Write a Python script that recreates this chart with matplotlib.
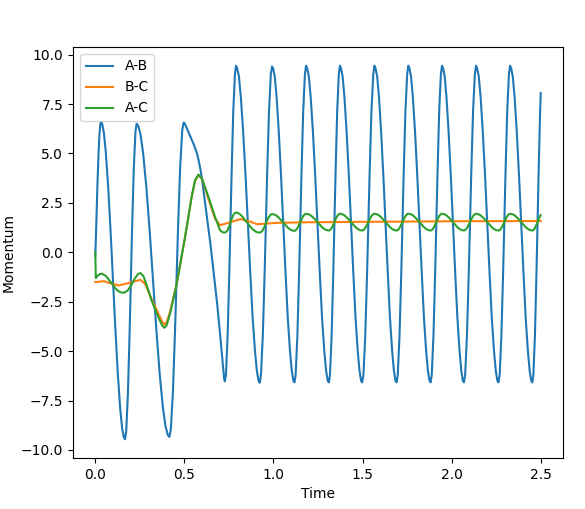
import matplotlib
matplotlib.use("Agg")
import matplotlib.pyplot as plt

# ---- values ----
# A-B, irregular start (t < 0.727)
t_ab_early = [0.0, 0.006, 0.012, 0.018, 0.023, 0.028, 0.032,
              0.0388, 0.0482, 0.059, 0.0725, 0.086, 0.0995, 0.113, 0.1265, 0.14, 0.1508, 0.1602,
              0.167, 0.1735, 0.1833, 0.193, 0.1995, 0.206, 0.2158, 0.2255,
              0.232, 0.2412, 0.2541, 0.2688, 0.2872, 0.3056, 0.324, 0.3424, 0.3608, 0.3792, 0.3939, 0.4068,
              0.416, 0.424, 0.436, 0.448, 0.456, 0.464, 0.476, 0.488,
              0.496, 0.503, 0.515, 0.534, 0.555, 0.571, 0.58, 0.59, 0.60, 0.609,
              0.628, 0.646, 0.665, 0.684, 0.700, 0.712, 0.718, 0.723]
ab_early = [-0.2, 1.5, 3.4, 4.9, 5.9, 6.45, 6.6,
            6.50, 6.04, 5.07, 3.29, 1.05, -1.43, -3.91, -6.15, -7.93, -8.90, -9.36,
            -9.46, -9.07, -7.12, -3.95, -1.48, 0.99, 4.16, 6.11,
            6.50, 6.40, 5.95, 4.99, 3.24, 1.03, -1.42, -3.87, -6.08, -7.83, -8.79, -9.24,
            -9.34, -8.95, -7.01, -3.85, -1.39, 1.07, 4.23, 6.17,
            6.56, 6.5, 6.25, 5.85, 5.4, 5.0, 4.65, 4.2, 3.65, 3.0,
            1.7, 0.44, -1.1, -2.6, -4.1, -5.3, -5.95, -6.38]

# regular oscillation part (time samples shared by A-B and A-C)
t_osc = [0.727, 0.7333, 0.7428, 0.7522, 0.7585, 0.7648, 0.7743, 0.7837,
         0.790, 0.7967, 0.806, 0.8166, 0.8299, 0.8432, 0.8565, 0.8698, 0.8831, 0.8964, 0.907, 0.9164,
         0.923, 0.9299, 0.9403, 0.9506, 0.9575, 0.9644, 0.9748, 0.9851,
         0.992, 0.9983, 1.0071, 1.0172, 1.0298, 1.0424, 1.055, 1.0676, 1.0802, 1.0928, 1.1029, 1.1117,
         1.118, 1.1245, 1.1343, 1.144, 1.1505, 1.157, 1.1668, 1.1765,
         1.183, 1.1894, 1.1984, 1.2086, 1.2214, 1.2342, 1.247, 1.2598, 1.2726, 1.2854, 1.2956, 1.3046,
         1.311, 1.3172, 1.3265, 1.3358, 1.342, 1.3482, 1.3575, 1.3668,
         1.373, 1.3793, 1.388, 1.398, 1.4105, 1.423, 1.4355, 1.448, 1.4605, 1.473, 1.483, 1.4918,
         1.498, 1.5049, 1.5153, 1.5256, 1.5325, 1.5394, 1.5498, 1.5601,
         1.567, 1.5732, 1.5819, 1.5918, 1.6042, 1.6166, 1.629, 1.6414, 1.6538, 1.6662, 1.6761, 1.6848,
         1.691, 1.6976, 1.7075, 1.7174, 1.724, 1.7306, 1.7405, 1.7504,
         1.757, 1.7633, 1.772, 1.782, 1.7945, 1.807, 1.8195, 1.832, 1.8445, 1.857, 1.867, 1.8758,
         1.882, 1.8884, 1.898, 1.9076, 1.914, 1.9204, 1.93, 1.9396,
         1.946, 1.9522, 1.9608, 1.9706, 1.9829, 1.9952, 2.0075, 2.0198, 2.0321, 2.0444, 2.0542, 2.0629,
         2.069, 2.0758, 2.086, 2.0962, 2.103, 2.1098, 2.12, 2.1302,
         2.137, 2.1433, 2.1521, 2.1622, 2.1748, 2.1874, 2.2, 2.2126, 2.2252, 2.2378, 2.2479, 2.2567,
         2.263, 2.2695, 2.2793, 2.289, 2.2955, 2.302, 2.3118, 2.3215,
         2.328, 2.3343, 2.343, 2.353, 2.3655, 2.378, 2.3905, 2.403, 2.4155, 2.428, 2.438, 2.4468,
         2.453, 2.4588, 2.4675, 2.4762, 2.482, 2.4878, 2.4965, 2.5]
ab_osc = [-6.53, -6.2, -4.2, -1.0, 1.4, 3.9, 7.1, 9.0,
          9.44, 9.3, 8.9, 7.9, 6.1, 3.9, 1.4, -1.0, -3.3, -5.0, -6.0, -6.5,
          -6.60, -6.2, -4.2, -1.0, 1.4, 3.9, 7.1, 9.0,
          9.40, 9.3, 8.9, 7.9, 6.1, 3.9, 1.4, -1.0, -3.3, -5.0, -6.0, -6.5,
          -6.58, -6.2, -4.2, -1.0, 1.4, 3.9, 7.1, 9.0,
          9.44, 9.3, 8.9, 7.9, 6.1, 3.9, 1.4, -1.0, -3.3, -5.0, -6.0, -6.5,
          -6.58, -6.2, -4.2, -1.0, 1.4, 3.9, 7.1, 9.0,
          9.44, 9.3, 8.9, 7.9, 6.1, 3.9, 1.4, -1.0, -3.3, -5.0, -6.0, -6.5,
          -6.58, -6.2, -4.2, -1.0, 1.4, 3.9, 7.1, 9.0,
          9.44, 9.3, 8.9, 7.9, 6.1, 3.9, 1.4, -1.0, -3.3, -5.0, -6.0, -6.5,
          -6.58, -6.2, -4.2, -1.0, 1.4, 3.9, 7.1, 9.0,
          9.44, 9.3, 8.9, 7.9, 6.1, 3.9, 1.4, -1.0, -3.3, -5.0, -6.0, -6.5,
          -6.58, -6.2, -4.2, -1.0, 1.4, 3.9, 7.1, 9.0,
          9.44, 9.3, 8.9, 7.9, 6.1, 3.9, 1.4, -1.0, -3.3, -5.0, -6.0, -6.5,
          -6.58, -6.2, -4.2, -1.0, 1.4, 3.9, 7.1, 9.0,
          9.44, 9.3, 8.9, 7.9, 6.1, 3.9, 1.4, -1.0, -3.3, -5.0, -6.0, -6.5,
          -6.58, -6.2, -4.2, -1.0, 1.4, 3.9, 7.1, 9.0,
          9.44, 9.3, 8.9, 7.9, 6.1, 3.9, 1.4, -1.0, -3.3, -5.0, -6.0, -6.5,
          -6.58, -6.2, -4.2, -1.0, 1.4, 3.9, 7.1, 8.05]

# B-C
t_bc = [0.0, 0.047, 0.09, 0.131, 0.19, 0.253, 0.28, 0.316, 0.354, 0.375,
        0.388, 0.40, 0.42, 0.457, 0.504, 0.541, 0.56, 0.579, 0.60, 0.635,
        0.672, 0.70, 0.75, 0.815, 0.87, 0.908, 0.96, 1.02, 1.2, 1.5, 2.0, 2.5]
bc = [-1.51, -1.46, -1.58, -1.68, -1.55, -1.39, -1.6, -2.36, -3.1, -3.5,
      -3.65, -3.55, -3.0, -1.59, 0.78, 2.81, 3.6, 3.91, 3.7, 2.7,
      1.7, 1.37, 1.5, 1.68, 1.55, 1.42, 1.45, 1.49, 1.52, 1.54, 1.57, 1.58]

# A-C, irregular start
t_ac_early = [0.0, 0.003, 0.012, 0.025, 0.037, 0.06, 0.09, 0.12, 0.14, 0.159,
              0.18, 0.20, 0.22, 0.24, 0.253, 0.27, 0.29, 0.316, 0.354, 0.375,
              0.388, 0.40, 0.42, 0.457, 0.504, 0.541, 0.56, 0.579, 0.60, 0.635,
              0.672, 0.70, 0.715]
ac_early = [0.0, -1.3, -1.2, -1.1, -1.08, -1.2, -1.55, -1.9, -2.02, -2.05,
            -1.95, -1.7, -1.35, -1.1, -1.05, -1.2, -1.7, -2.44, -3.28, -3.7,
            -3.82, -3.7, -3.1, -1.59, 0.78, 2.81, 3.65, 3.93, 3.7, 2.81,
            1.79, 1.12, 1.01]
ac_osc = [1.00, 1.02, 1.12, 1.33, 1.50, 1.67, 1.88, 1.99,
          2.01, 2.00, 1.96, 1.89, 1.76, 1.59, 1.46, 1.30, 1.17, 1.07, 1.02, 1.00,
          1.00, 1.02, 1.12, 1.32, 1.47, 1.62, 1.80, 1.91,
          1.93, 1.92, 1.90, 1.85, 1.75, 1.63, 1.50, 1.38, 1.25, 1.16, 1.11, 1.09,
          1.08, 1.11, 1.22, 1.40, 1.52, 1.66, 1.83, 1.93,
          1.95, 1.94, 1.92, 1.87, 1.77, 1.66, 1.52, 1.40, 1.27, 1.18, 1.13, 1.11,
          1.10, 1.12, 1.23, 1.40, 1.52, 1.66, 1.83, 1.93,
          1.95, 1.94, 1.92, 1.87, 1.77, 1.66, 1.52, 1.40, 1.27, 1.18, 1.13, 1.11,
          1.10, 1.12, 1.23, 1.40, 1.52, 1.66, 1.83, 1.93,
          1.95, 1.94, 1.92, 1.87, 1.77, 1.66, 1.52, 1.40, 1.27, 1.18, 1.13, 1.11,
          1.10, 1.12, 1.23, 1.40, 1.52, 1.66, 1.83, 1.93,
          1.95, 1.94, 1.92, 1.87, 1.77, 1.66, 1.52, 1.40, 1.27, 1.18, 1.13, 1.11,
          1.10, 1.12, 1.23, 1.40, 1.52, 1.66, 1.83, 1.93,
          1.95, 1.94, 1.92, 1.87, 1.77, 1.66, 1.52, 1.40, 1.27, 1.18, 1.13, 1.11,
          1.10, 1.12, 1.23, 1.40, 1.52, 1.66, 1.83, 1.93,
          1.95, 1.94, 1.92, 1.87, 1.77, 1.66, 1.52, 1.40, 1.27, 1.18, 1.13, 1.11,
          1.10, 1.12, 1.23, 1.40, 1.52, 1.66, 1.83, 1.93,
          1.95, 1.94, 1.92, 1.87, 1.77, 1.66, 1.52, 1.40, 1.27, 1.18, 1.13, 1.11,
          1.10, 1.12, 1.23, 1.40, 1.52, 1.66, 1.83, 1.88]

labels = ["A-B", "B-C", "A-C"]

t_ab = t_ab_early + t_osc
ab = ab_early + ab_osc
t_ac = t_ac_early + t_osc
ac = ac_early + ac_osc

fig = plt.figure(figsize=(5.85, 5.09), dpi=100)
ax = fig.add_axes([0.1248, 0.1002, 0.8376, 0.8075])

ax.plot(t_ab, ab, label=labels[0])
ax.plot(t_bc, bc, label=labels[1])
ax.plot(t_ac, ac, label=labels[2])

ax.set_xlabel("Time")
ax.set_ylabel("Momentum")
ax.legend(loc="upper left")

fig.savefig("out.png", dpi=100)
